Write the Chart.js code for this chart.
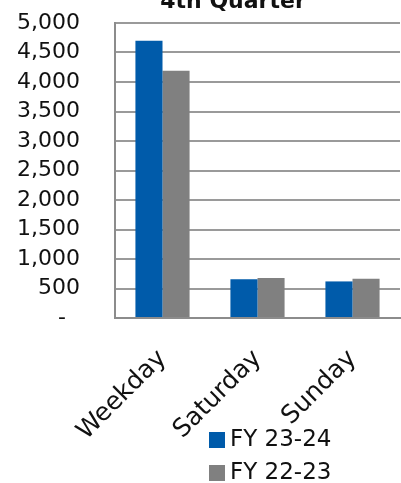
<!DOCTYPE html>
<html>
<head>
<meta charset="utf-8">
<script src="https://cdn.jsdelivr.net/npm/chart.js@4.4.1/dist/chart.umd.min.js"></script>
<style>
html, body { margin: 0; padding: 0; background: #fff; overflow: hidden; }
#wrap { width: 401px; height: 483px; position: relative; }
</style>
</head>
<body>
<div id="wrap"><canvas id="myChart"></canvas></div>
<script>
var categories = ["Weekday", "Saturday", "Sunday"];
var fy2324 = [4700, 655, 620];
var fy2223 = [4190, 678, 665];
var seriesNames = ["FY 23-24", "FY 22-23"];
var seriesColors = ["#005BAA", "#808080"];
var chartTitle = "4th Quarter";

var fontFam = "'DejaVu Sans', sans-serif";

// title + legend drawn by hand, the excel layout does not fit chart.js defaults
var extras = {
    id: 'extras',
    afterDraw: function (chart) {
        var ctx = chart.ctx;
        var area = chart.chartArea;
        ctx.save();
        ctx.fillStyle = '#111';
        ctx.font = "bold 22px " + fontFam;
        ctx.textAlign = 'center';
        ctx.textBaseline = 'alphabetic';
        ctx.fillText(chartTitle, area.left + 118, 8);

        ctx.font = "23px " + fontFam;
        ctx.textAlign = 'left';
        ctx.textBaseline = 'middle';
        for (var k = 0; k < seriesNames.length; k++) {
            var y = area.bottom + 122 + k * 33;
            ctx.fillStyle = seriesColors[k];
            ctx.fillRect(area.left + 94, y - 8, 16, 16);
            ctx.fillStyle = '#111';
            ctx.fillText(seriesNames[k], area.left + 115, y);
        }
        ctx.restore();
    }
};

var ctx = document.getElementById('myChart').getContext('2d');
var chart = new Chart(ctx, {
    type: 'bar',
    data: {
        labels: categories,
        datasets: [{
            label: seriesNames[0],
            data: fy2324,
            backgroundColor: seriesColors[0]
        }, {
            label: seriesNames[1],
            data: fy2223,
            backgroundColor: seriesColors[1]
        }]
    },
    options: {
        responsive: true,
        maintainAspectRatio: false,
        animation: false,
        layout: { padding: { top: 23, right: 1, left: 0, bottom: 0 } },
        datasets: { bar: { barPercentage: 1, categoryPercentage: 0.57 } },
        plugins: {
            legend: { display: false },
            tooltip: { enabled: false }
        },
        scales: {
            x: {
                grid: { display: false },
                border: { color: '#8c8c8c', width: 2 },
                ticks: {
                    color: '#111',
                    font: { family: fontFam, size: 25 },
                    minRotation: 45,
                    maxRotation: 45,
                    padding: 18
                },
                afterFit: function (scale) { scale.height = 165; }
            },
            y: {
                min: 0,
                max: 5000,
                // invisible tick marks give the gap between labels and axis
                grid: { color: '#9a9a9a', lineWidth: 2, drawTicks: true, tickLength: 35, tickColor: 'rgba(0,0,0,0)' },
                border: { color: '#8c8c8c', width: 2 },
                ticks: {
                    stepSize: 500,
                    autoSkip: false,
                    color: '#111',
                    padding: 0,
                    font: { family: fontFam, size: 22 },
                    callback: function (v) { return v === 0 ? '-  ' : v.toLocaleString('en-US'); }
                },
                afterFit: function (scale) { scale.width = 115; }
            }
        }
    },
    plugins: [extras]
});
</script>
</body>
</html>
